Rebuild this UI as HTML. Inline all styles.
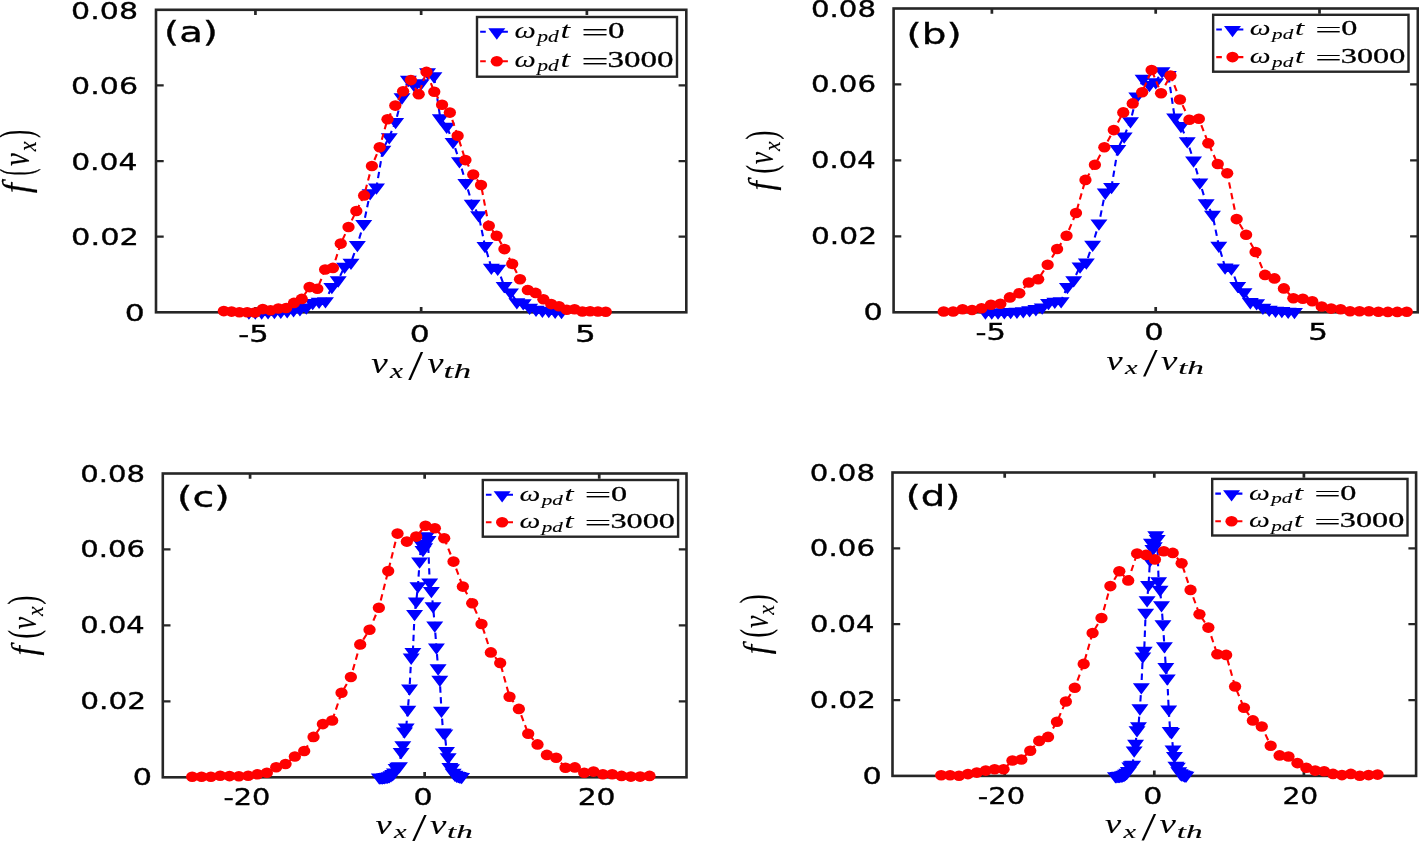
<!DOCTYPE html>
<html lang="en"><head><meta charset="utf-8"><title>f(v_x) distributions</title>
<style>html,body{margin:0;padding:0;background:#fff}body{width:1419px;height:841px;overflow:hidden}svg{display:block}</style>
</head><body>
<svg width="1419" height="841" viewBox="0 0 1419 841">
<rect width="1419" height="841" fill="#fff"/>
<g id="panel-a">
<rect x="156" y="9.8" width="530.3" height="302.5" fill="none" stroke="#262626" stroke-width="2.6"/>
<path d="M255.43 312.3v-5.3 M255.43 9.8v5.3 M421.15 312.3v-5.3 M421.15 9.8v5.3 M586.87 312.3v-5.3 M586.87 9.8v5.3" stroke="#262626" stroke-width="2.7" fill="none"/>
<path d="M156 236.68h7.7 M686.3 236.68h-7.7 M156 161.05h7.7 M686.3 161.05h-7.7 M156 85.43h7.7 M686.3 85.43h-7.7" stroke="#262626" stroke-width="2.2" fill="none"/>
<text transform="translate(124.84 321) scale(1.3256 1)" font-family="'DejaVu Sans','Liberation Sans',sans-serif" font-size="23.7" stroke="#000" stroke-width="0.35">0</text>
<text transform="translate(71.09 245.38) scale(1.2873 1)" font-family="'DejaVu Sans','Liberation Sans',sans-serif" font-size="23.7" stroke="#000" stroke-width="0.35">0.02</text>
<text transform="translate(71.14 169.75) scale(1.2589 1)" font-family="'DejaVu Sans','Liberation Sans',sans-serif" font-size="23.7" stroke="#000" stroke-width="0.35">0.04</text>
<text transform="translate(71.12 94.13) scale(1.2682 1)" font-family="'DejaVu Sans','Liberation Sans',sans-serif" font-size="23.7" stroke="#000" stroke-width="0.35">0.06</text>
<text transform="translate(71.12 18.5) scale(1.2682 1)" font-family="'DejaVu Sans','Liberation Sans',sans-serif" font-size="23.7" stroke="#000" stroke-width="0.35">0.08</text>
<text transform="translate(238.3 342) scale(1.2902 1)" font-family="'DejaVu Sans','Liberation Sans',sans-serif" font-size="23.7" stroke="#000" stroke-width="0.35">-5</text>
<text transform="translate(409.74 342) scale(1.3256 1)" font-family="'DejaVu Sans','Liberation Sans',sans-serif" font-size="23.7" stroke="#000" stroke-width="0.35">0</text>
<text transform="translate(575.12 342) scale(1.3839 1)" font-family="'DejaVu Sans','Liberation Sans',sans-serif" font-size="23.7" stroke="#000" stroke-width="0.35">5</text>
<text transform="translate(164.08 42.1) scale(1.3797 1)" font-family="'DejaVu Sans','Liberation Sans',sans-serif" font-size="28" stroke="#000" stroke-width="0.35">(a)</text>
<text transform="translate(371.2 373.3) scale(1.2375 1)" font-family="'Liberation Serif','DejaVu Serif',serif" font-size="29.96" font-style="italic" stroke="#000" stroke-width="0.12">v</text>
<text transform="translate(389.96 377.69) scale(1.4213 1)" font-family="'Liberation Serif','DejaVu Serif',serif" font-size="20.65" font-style="italic" stroke="#000" stroke-width="0.12">x</text>
<text transform="translate(407.44 376.76) scale(1.4463 1)" font-family="'DejaVu Sans','Liberation Sans',sans-serif" font-weight="200" font-size="33.85">/</text>
<text transform="translate(427.4 373.3) scale(1.2007 1)" font-family="'Liberation Serif','DejaVu Serif',serif" font-size="29.96" font-style="italic" stroke="#000" stroke-width="0.12">v</text>
<text transform="translate(443.6 377.69) scale(1.7059 1)" font-family="'Liberation Serif','DejaVu Serif',serif" font-size="20.65" font-style="italic" stroke="#000" stroke-width="0.12">th</text>
<text transform="translate(29.1 193.2) rotate(-90) scale(1.2160 1.2500)" font-family="'Liberation Serif','DejaVu Serif',serif" font-size="29.96" font-style="italic" stroke="#000" stroke-width="0.12">f</text>
<text transform="translate(30.92 175.46) rotate(-90) scale(0.5739 1.2500)" font-family="'Liberation Serif','DejaVu Serif',serif" font-size="36.55" stroke="#000" stroke-width="0.12">(</text>
<text transform="translate(29.1 165.9) rotate(-90) scale(0.9650 1.2500)" font-family="'Liberation Serif','DejaVu Serif',serif" font-size="29.96" font-style="italic" stroke="#000" stroke-width="0.12">v</text>
<text transform="translate(36.38 151.25) rotate(-90) scale(1.0793 1.2500)" font-family="'Liberation Serif','DejaVu Serif',serif" font-size="20.65" font-style="italic" stroke="#000" stroke-width="0.12">x</text>
<text transform="translate(30.92 138.06) rotate(-90) scale(0.6695 1.2500)" font-family="'Liberation Serif','DejaVu Serif',serif" font-size="36.55" stroke="#000" stroke-width="0.12">)</text>
<path d="M248.9 312.3L255.28 312.3L261.66 312.2L268.04 312L274.42 311.8L280.8 311.5L287.18 311L293.56 310L299.94 308.9L306.32 307.2L312.7 302.7L319.08 301.5L325.46 301L331.84 286.8L338.22 280.1L344.6 266.5L350.98 262.5L357.36 244.7L363.74 223.7L370.12 192.9L376.5 187.2L382.88 149.4L389.26 136.9L395.64 121.8L402.02 97.1L408.4 79.6L414.78 85.8L421.16 83L427.54 72.1L433.92 75.9L440.3 118.1L446.68 126.5L453.06 141.8L459.44 160.9L465.82 182.7L472.2 203.6L478.58 214.9L484.96 245.8L491.34 267.4L497.72 268.4L504.1 285.8L510.48 292.2L516.86 301.9L523.24 303L529.62 307.5L536 309.5L542.38 310.5L548.76 310.8L555.14 311.5L561.52 311.8" stroke="#0000ff" stroke-width="2.1" stroke-dasharray="6.4 4.4" fill="none" stroke-linejoin="round"/>
<path d="M240.4 308.53L257.4 308.53L248.9 319.83ZM246.78 308.53L263.78 308.53L255.28 319.83ZM253.16 308.43L270.16 308.43L261.66 319.73ZM259.54 308.23L276.54 308.23L268.04 319.53ZM265.92 308.03L282.92 308.03L274.42 319.33ZM272.3 307.73L289.3 307.73L280.8 319.03ZM278.68 307.23L295.68 307.23L287.18 318.53ZM285.06 306.23L302.06 306.23L293.56 317.53ZM291.44 305.13L308.44 305.13L299.94 316.43ZM297.82 303.43L314.82 303.43L306.32 314.73ZM304.2 298.93L321.2 298.93L312.7 310.23ZM310.58 297.73L327.58 297.73L319.08 309.03ZM316.96 297.23L333.96 297.23L325.46 308.53ZM323.34 283.03L340.34 283.03L331.84 294.33ZM329.72 276.33L346.72 276.33L338.22 287.63ZM336.1 262.73L353.1 262.73L344.6 274.03ZM342.48 258.73L359.48 258.73L350.98 270.03ZM348.86 240.93L365.86 240.93L357.36 252.23ZM355.24 219.93L372.24 219.93L363.74 231.23ZM361.62 189.13L378.62 189.13L370.12 200.43ZM368 183.43L385 183.43L376.5 194.73ZM374.38 145.63L391.38 145.63L382.88 156.93ZM380.76 133.13L397.76 133.13L389.26 144.43ZM387.14 118.03L404.14 118.03L395.64 129.33ZM393.52 93.33L410.52 93.33L402.02 104.63ZM399.9 75.83L416.9 75.83L408.4 87.13ZM406.28 82.03L423.28 82.03L414.78 93.33ZM412.66 79.23L429.66 79.23L421.16 90.53ZM419.04 68.33L436.04 68.33L427.54 79.63ZM425.42 72.13L442.42 72.13L433.92 83.43ZM431.8 114.33L448.8 114.33L440.3 125.63ZM438.18 122.73L455.18 122.73L446.68 134.03ZM444.56 138.03L461.56 138.03L453.06 149.33ZM450.94 157.13L467.94 157.13L459.44 168.43ZM457.32 178.93L474.32 178.93L465.82 190.23ZM463.7 199.83L480.7 199.83L472.2 211.13ZM470.08 211.13L487.08 211.13L478.58 222.43ZM476.46 242.03L493.46 242.03L484.96 253.33ZM482.84 263.63L499.84 263.63L491.34 274.93ZM489.22 264.63L506.22 264.63L497.72 275.93ZM495.6 282.03L512.6 282.03L504.1 293.33ZM501.98 288.43L518.98 288.43L510.48 299.73ZM508.36 298.13L525.36 298.13L516.86 309.43ZM514.74 299.23L531.74 299.23L523.24 310.53ZM521.12 303.73L538.12 303.73L529.62 315.03ZM527.5 305.73L544.5 305.73L536 317.03ZM533.88 306.73L550.88 306.73L542.38 318.03ZM540.26 307.03L557.26 307.03L548.76 318.33ZM546.64 307.73L563.64 307.73L555.14 319.03ZM553.02 308.03L570.02 308.03L561.52 319.33Z" fill="#0000ff"/>
<path d="M223.8 311.1L231.59 311.6L239.39 312.3L247.19 312.3L254.98 312.5L262.78 309.1L270.57 310.2L278.37 308.5L286.16 308L293.96 302.9L301.75 298.9L309.55 287.1L317.34 288.8L325.13 269.5L332.93 267.9L340.73 243.6L348.52 227L356.31 211L364.11 195.4L371.9 166L379.7 147.3L387.5 119.2L395.29 105.6L403.09 91.2L410.88 80.1L418.68 94.3L426.47 71.9L434.26 91.7L442.06 104.7L449.86 112.6L457.65 135.8L465.45 160.1L473.24 174.5L481.04 185L488.83 225.8L496.62 235.7L504.42 249.1L512.22 263.9L520.01 279.3L527.81 290L535.6 292.9L543.39 299.3L551.19 304.1L558.99 306.3L566.78 309.7L574.58 309.3L582.37 311.5L590.16 311.2L597.96 311.5L605.75 311.8" stroke="#ff0000" stroke-width="2.1" stroke-dasharray="6.4 4.4" fill="none" stroke-linejoin="round"/>
<g fill="#ff0000"><ellipse cx="223.8" cy="311.1" rx="6.15" ry="5.3"/><ellipse cx="231.59" cy="311.6" rx="6.15" ry="5.3"/><ellipse cx="239.39" cy="312.3" rx="6.15" ry="5.3"/><ellipse cx="247.19" cy="312.3" rx="6.15" ry="5.3"/><ellipse cx="254.98" cy="312.5" rx="6.15" ry="5.3"/><ellipse cx="262.78" cy="309.1" rx="6.15" ry="5.3"/><ellipse cx="270.57" cy="310.2" rx="6.15" ry="5.3"/><ellipse cx="278.37" cy="308.5" rx="6.15" ry="5.3"/><ellipse cx="286.16" cy="308" rx="6.15" ry="5.3"/><ellipse cx="293.96" cy="302.9" rx="6.15" ry="5.3"/><ellipse cx="301.75" cy="298.9" rx="6.15" ry="5.3"/><ellipse cx="309.55" cy="287.1" rx="6.15" ry="5.3"/><ellipse cx="317.34" cy="288.8" rx="6.15" ry="5.3"/><ellipse cx="325.13" cy="269.5" rx="6.15" ry="5.3"/><ellipse cx="332.93" cy="267.9" rx="6.15" ry="5.3"/><ellipse cx="340.73" cy="243.6" rx="6.15" ry="5.3"/><ellipse cx="348.52" cy="227" rx="6.15" ry="5.3"/><ellipse cx="356.31" cy="211" rx="6.15" ry="5.3"/><ellipse cx="364.11" cy="195.4" rx="6.15" ry="5.3"/><ellipse cx="371.9" cy="166" rx="6.15" ry="5.3"/><ellipse cx="379.7" cy="147.3" rx="6.15" ry="5.3"/><ellipse cx="387.5" cy="119.2" rx="6.15" ry="5.3"/><ellipse cx="395.29" cy="105.6" rx="6.15" ry="5.3"/><ellipse cx="403.09" cy="91.2" rx="6.15" ry="5.3"/><ellipse cx="410.88" cy="80.1" rx="6.15" ry="5.3"/><ellipse cx="418.68" cy="94.3" rx="6.15" ry="5.3"/><ellipse cx="426.47" cy="71.9" rx="6.15" ry="5.3"/><ellipse cx="434.26" cy="91.7" rx="6.15" ry="5.3"/><ellipse cx="442.06" cy="104.7" rx="6.15" ry="5.3"/><ellipse cx="449.86" cy="112.6" rx="6.15" ry="5.3"/><ellipse cx="457.65" cy="135.8" rx="6.15" ry="5.3"/><ellipse cx="465.45" cy="160.1" rx="6.15" ry="5.3"/><ellipse cx="473.24" cy="174.5" rx="6.15" ry="5.3"/><ellipse cx="481.04" cy="185" rx="6.15" ry="5.3"/><ellipse cx="488.83" cy="225.8" rx="6.15" ry="5.3"/><ellipse cx="496.62" cy="235.7" rx="6.15" ry="5.3"/><ellipse cx="504.42" cy="249.1" rx="6.15" ry="5.3"/><ellipse cx="512.22" cy="263.9" rx="6.15" ry="5.3"/><ellipse cx="520.01" cy="279.3" rx="6.15" ry="5.3"/><ellipse cx="527.81" cy="290" rx="6.15" ry="5.3"/><ellipse cx="535.6" cy="292.9" rx="6.15" ry="5.3"/><ellipse cx="543.39" cy="299.3" rx="6.15" ry="5.3"/><ellipse cx="551.19" cy="304.1" rx="6.15" ry="5.3"/><ellipse cx="558.99" cy="306.3" rx="6.15" ry="5.3"/><ellipse cx="566.78" cy="309.7" rx="6.15" ry="5.3"/><ellipse cx="574.58" cy="309.3" rx="6.15" ry="5.3"/><ellipse cx="582.37" cy="311.5" rx="6.15" ry="5.3"/><ellipse cx="590.16" cy="311.2" rx="6.15" ry="5.3"/><ellipse cx="597.96" cy="311.5" rx="6.15" ry="5.3"/><ellipse cx="605.75" cy="311.8" rx="6.15" ry="5.3"/></g>
<rect x="477" y="17" width="200" height="59.7" fill="#fff" stroke="#262626" stroke-width="2.4"/>
<path d="M480.17 31.8H507.89" stroke="#0000ff" stroke-width="2.1" stroke-dasharray="5.6 6 30 0" fill="none"/>
<path d="M488.3 28.33L505.3 28.33L496.8 39.63Z" fill="#0000ff"/>
<path d="M480.17 61.3H507.89" stroke="#ff0000" stroke-width="2.1" stroke-dasharray="5.6 6 30 0" fill="none"/>
<ellipse cx="496.8" cy="61.3" rx="6.15" ry="5.3" fill="#ff0000"/>
<text transform="translate(514.52 37.8) scale(1.2905 1)" font-family="'Liberation Serif','DejaVu Serif',serif" font-size="23.33" font-style="italic" stroke="#000" stroke-width="0.12">&#969;</text>
<text transform="translate(537.32 41.97) scale(1.3072 1)" font-family="'Liberation Serif','DejaVu Serif',serif" font-size="16.48" font-style="italic" stroke="#000" stroke-width="0.12">pd</text>
<text transform="translate(560.41 37.8) scale(1.4970 1)" font-family="'Liberation Serif','DejaVu Serif',serif" font-size="23.33" font-style="italic">t</text>
<text transform="translate(581.15 39.73) scale(2.0958 1)" font-family="'Liberation Serif','DejaVu Serif',serif" font-size="23.33" stroke="#000" stroke-width="0.12">=</text>
<text transform="translate(608.09 37.8) scale(1.4134 1)" font-family="'Liberation Serif','DejaVu Serif',serif" font-size="23.33" stroke="#000" stroke-width="0.3">0</text>
<text transform="translate(514.52 67.3) scale(1.2905 1)" font-family="'Liberation Serif','DejaVu Serif',serif" font-size="23.33" font-style="italic" stroke="#000" stroke-width="0.12">&#969;</text>
<text transform="translate(537.32 71.47) scale(1.3072 1)" font-family="'Liberation Serif','DejaVu Serif',serif" font-size="16.48" font-style="italic" stroke="#000" stroke-width="0.12">pd</text>
<text transform="translate(560.41 67.3) scale(1.4970 1)" font-family="'Liberation Serif','DejaVu Serif',serif" font-size="23.33" font-style="italic">t</text>
<text transform="translate(581.15 69.23) scale(2.0958 1)" font-family="'Liberation Serif','DejaVu Serif',serif" font-size="23.33" stroke="#000" stroke-width="0.12">=</text>
<text transform="translate(607.57 67.3) scale(1.4148 1)" font-family="'Liberation Serif','DejaVu Serif',serif" font-size="23.33" stroke="#000" stroke-width="0.3">3000</text>
</g>
<g id="panel-b">
<rect x="893.6" y="8.5" width="524.2" height="303.8" fill="none" stroke="#262626" stroke-width="2.6"/>
<path d="M991.89 312.3v-5.3 M991.89 8.5v5.3 M1155.7 312.3v-5.3 M1155.7 8.5v5.3 M1319.51 312.3v-5.3 M1319.51 8.5v5.3" stroke="#262626" stroke-width="2.7" fill="none"/>
<path d="M893.6 236.35h7.7 M1417.8 236.35h-7.7 M893.6 160.4h7.7 M1417.8 160.4h-7.7 M893.6 84.45h7.7 M1417.8 84.45h-7.7" stroke="#262626" stroke-width="2.2" fill="none"/>
<text transform="translate(863.51 320.3) scale(1.3659 1)" font-family="'DejaVu Sans','Liberation Sans',sans-serif" font-size="22.15" stroke="#000" stroke-width="0.35">0</text>
<text transform="translate(810.94 244.35) scale(1.3404 1)" font-family="'DejaVu Sans','Liberation Sans',sans-serif" font-size="22.15" stroke="#000" stroke-width="0.35">0.02</text>
<text transform="translate(810.99 168.4) scale(1.3108 1)" font-family="'DejaVu Sans','Liberation Sans',sans-serif" font-size="22.15" stroke="#000" stroke-width="0.35">0.04</text>
<text transform="translate(810.97 92.45) scale(1.3206 1)" font-family="'DejaVu Sans','Liberation Sans',sans-serif" font-size="22.15" stroke="#000" stroke-width="0.35">0.06</text>
<text transform="translate(810.97 16.5) scale(1.3206 1)" font-family="'DejaVu Sans','Liberation Sans',sans-serif" font-size="22.15" stroke="#000" stroke-width="0.35">0.08</text>
<text transform="translate(975.45 340.2) scale(1.3805 1)" font-family="'DejaVu Sans','Liberation Sans',sans-serif" font-size="22.15" stroke="#000" stroke-width="0.35">-5</text>
<text transform="translate(1144.29 340.2) scale(1.3790 1)" font-family="'DejaVu Sans','Liberation Sans',sans-serif" font-size="22.15" stroke="#000" stroke-width="0.35">0</text>
<text transform="translate(1308.17 340.2) scale(1.3995 1)" font-family="'DejaVu Sans','Liberation Sans',sans-serif" font-size="22.15" stroke="#000" stroke-width="0.35">5</text>
<text transform="translate(906.56 43.55) scale(1.3897 1)" font-family="'DejaVu Sans','Liberation Sans',sans-serif" font-size="28" stroke="#000" stroke-width="0.35">(b)</text>
<text transform="translate(1106.5 369.8) scale(1.3005 1)" font-family="'Liberation Serif','DejaVu Serif',serif" font-size="28" font-style="italic" stroke="#000" stroke-width="0.12">v</text>
<text transform="translate(1124.94 373.9) scale(1.4636 1)" font-family="'Liberation Serif','DejaVu Serif',serif" font-size="19.3" font-style="italic" stroke="#000" stroke-width="0.12">x</text>
<text transform="translate(1142.25 373.03) scale(1.5172 1)" font-family="'DejaVu Sans','Liberation Sans',sans-serif" font-weight="200" font-size="31.64">/</text>
<text transform="translate(1161 369.8) scale(1.3163 1)" font-family="'Liberation Serif','DejaVu Serif',serif" font-size="28" font-style="italic" stroke="#000" stroke-width="0.12">v</text>
<text transform="translate(1178.16 373.9) scale(1.7167 1)" font-family="'Liberation Serif','DejaVu Serif',serif" font-size="19.3" font-style="italic" stroke="#000" stroke-width="0.12">th</text>
<text transform="translate(773.4 190.5) rotate(-90) scale(1.1956 1.2500)" font-family="'Liberation Serif','DejaVu Serif',serif" font-size="28" font-style="italic" stroke="#000" stroke-width="0.12">f</text>
<text transform="translate(775.1 173.6) rotate(-90) scale(0.7494 1.2500)" font-family="'Liberation Serif','DejaVu Serif',serif" font-size="34.16" stroke="#000" stroke-width="0.12">(</text>
<text transform="translate(773.4 164.2) rotate(-90) scale(0.9931 1.2500)" font-family="'Liberation Serif','DejaVu Serif',serif" font-size="28" font-style="italic" stroke="#000" stroke-width="0.12">v</text>
<text transform="translate(780.2 151.06) rotate(-90) scale(1.1206 1.2500)" font-family="'Liberation Serif','DejaVu Serif',serif" font-size="19.3" font-style="italic" stroke="#000" stroke-width="0.12">x</text>
<text transform="translate(775.1 139.54) rotate(-90) scale(0.7825 1.2500)" font-family="'Liberation Serif','DejaVu Serif',serif" font-size="34.16" stroke="#000" stroke-width="0.12">)</text>
<path d="M985.43 312.3L991.74 312.3L998.04 312.2L1004.35 312L1010.66 311.8L1016.96 311.5L1023.27 310.99L1029.58 309.99L1035.88 308.89L1042.19 307.18L1048.5 302.66L1054.8 301.45L1061.11 300.95L1067.42 286.69L1073.72 279.96L1080.03 266.3L1086.34 262.29L1092.64 244.41L1098.95 223.32L1105.26 192.39L1111.56 186.66L1117.87 148.7L1124.18 136.15L1130.48 120.98L1136.79 96.18L1143.1 78.6L1149.4 84.83L1155.71 82.01L1162.02 71.07L1168.32 74.88L1174.63 117.27L1180.94 125.7L1187.24 141.07L1193.55 160.25L1199.86 182.14L1206.16 203.13L1212.47 214.48L1218.78 245.51L1225.08 267.21L1231.39 268.21L1237.7 285.69L1244 292.11L1250.31 301.86L1256.62 302.96L1262.92 307.48L1269.23 309.49L1275.54 310.49L1281.84 310.79L1288.15 311.5L1294.46 311.8" stroke="#0000ff" stroke-width="2.1" stroke-dasharray="6.4 4.4" fill="none" stroke-linejoin="round"/>
<path d="M976.93 308.53L993.93 308.53L985.43 319.83ZM983.24 308.53L1000.24 308.53L991.74 319.83ZM989.54 308.43L1006.54 308.43L998.04 319.73ZM995.85 308.23L1012.85 308.23L1004.35 319.53ZM1002.16 308.03L1019.16 308.03L1010.66 319.33ZM1008.46 307.73L1025.46 307.73L1016.96 319.03ZM1014.77 307.23L1031.77 307.23L1023.27 318.53ZM1021.08 306.22L1038.08 306.22L1029.58 317.52ZM1027.38 305.12L1044.38 305.12L1035.88 316.42ZM1033.69 303.41L1050.69 303.41L1042.19 314.71ZM1040 298.89L1057 298.89L1048.5 310.19ZM1046.3 297.69L1063.3 297.69L1054.8 308.99ZM1052.61 297.18L1069.61 297.18L1061.11 308.48ZM1058.92 282.92L1075.92 282.92L1067.42 294.22ZM1065.22 276.19L1082.22 276.19L1073.72 287.49ZM1071.53 262.54L1088.53 262.54L1080.03 273.84ZM1077.84 258.52L1094.84 258.52L1086.34 269.82ZM1084.14 240.64L1101.14 240.64L1092.64 251.94ZM1090.45 219.55L1107.45 219.55L1098.95 230.85ZM1096.76 188.62L1113.76 188.62L1105.26 199.92ZM1103.06 182.9L1120.06 182.9L1111.56 194.2ZM1109.37 144.93L1126.37 144.93L1117.87 156.23ZM1115.68 132.38L1132.68 132.38L1124.18 143.68ZM1121.98 117.21L1138.98 117.21L1130.48 128.51ZM1128.29 92.41L1145.29 92.41L1136.79 103.71ZM1134.6 74.83L1151.6 74.83L1143.1 86.13ZM1140.9 81.06L1157.9 81.06L1149.4 92.36ZM1147.21 78.25L1164.21 78.25L1155.71 89.55ZM1153.52 67.3L1170.52 67.3L1162.02 78.6ZM1159.82 71.12L1176.82 71.12L1168.32 82.42ZM1166.13 113.5L1183.13 113.5L1174.63 124.8ZM1172.44 121.93L1189.44 121.93L1180.94 133.23ZM1178.74 137.3L1195.74 137.3L1187.24 148.6ZM1185.05 156.48L1202.05 156.48L1193.55 167.78ZM1191.36 178.38L1208.36 178.38L1199.86 189.68ZM1197.66 199.37L1214.66 199.37L1206.16 210.67ZM1203.97 210.71L1220.97 210.71L1212.47 222.01ZM1210.28 241.75L1227.28 241.75L1218.78 253.05ZM1216.58 263.44L1233.58 263.44L1225.08 274.74ZM1222.89 264.44L1239.89 264.44L1231.39 275.74ZM1229.2 281.92L1246.2 281.92L1237.7 293.22ZM1235.5 288.35L1252.5 288.35L1244 299.65ZM1241.81 298.09L1258.81 298.09L1250.31 309.39ZM1248.12 299.19L1265.12 299.19L1256.62 310.49ZM1254.42 303.71L1271.42 303.71L1262.92 315.01ZM1260.73 305.72L1277.73 305.72L1269.23 317.02ZM1267.04 306.73L1284.04 306.73L1275.54 318.03ZM1273.34 307.03L1290.34 307.03L1281.84 318.33ZM1279.65 307.73L1296.65 307.73L1288.15 319.03ZM1285.96 308.03L1302.96 308.03L1294.46 319.33Z" fill="#0000ff"/>
<path d="M943.7 311.5L953.15 311.5L962.6 309.2L972.05 310L981.5 308.2L990.95 304.8L1000.4 303.7L1009.85 297.4L1019.3 293.3L1028.75 282.5L1038.2 279.2L1047.65 264.7L1057.1 249L1066.55 235.7L1076 213L1085.45 179.9L1094.9 164.8L1104.35 147.2L1113.8 130.1L1123.25 112.4L1132.7 103.4L1142.15 92.2L1151.6 70L1161.05 93.2L1170.5 75.5L1179.95 99.5L1189.4 119.7L1198.85 118.7L1208.3 143.2L1217.75 164L1227.2 173.3L1236.65 219.1L1246.1 234.7L1255.55 252L1265 274.9L1274.45 278.4L1283.9 288.4L1293.35 298.2L1302.8 298.8L1312.25 301.3L1321.7 306.5L1331.15 308.6L1340.6 309.2L1350.05 311.3L1359.5 311.3L1368.95 311.3L1378.4 311.7L1387.85 311.9L1397.3 311.9L1406.75 311.7" stroke="#ff0000" stroke-width="2.1" stroke-dasharray="6.4 4.4" fill="none" stroke-linejoin="round"/>
<g fill="#ff0000"><ellipse cx="943.7" cy="311.5" rx="6.15" ry="5.3"/><ellipse cx="953.15" cy="311.5" rx="6.15" ry="5.3"/><ellipse cx="962.6" cy="309.2" rx="6.15" ry="5.3"/><ellipse cx="972.05" cy="310" rx="6.15" ry="5.3"/><ellipse cx="981.5" cy="308.2" rx="6.15" ry="5.3"/><ellipse cx="990.95" cy="304.8" rx="6.15" ry="5.3"/><ellipse cx="1000.4" cy="303.7" rx="6.15" ry="5.3"/><ellipse cx="1009.85" cy="297.4" rx="6.15" ry="5.3"/><ellipse cx="1019.3" cy="293.3" rx="6.15" ry="5.3"/><ellipse cx="1028.75" cy="282.5" rx="6.15" ry="5.3"/><ellipse cx="1038.2" cy="279.2" rx="6.15" ry="5.3"/><ellipse cx="1047.65" cy="264.7" rx="6.15" ry="5.3"/><ellipse cx="1057.1" cy="249" rx="6.15" ry="5.3"/><ellipse cx="1066.55" cy="235.7" rx="6.15" ry="5.3"/><ellipse cx="1076" cy="213" rx="6.15" ry="5.3"/><ellipse cx="1085.45" cy="179.9" rx="6.15" ry="5.3"/><ellipse cx="1094.9" cy="164.8" rx="6.15" ry="5.3"/><ellipse cx="1104.35" cy="147.2" rx="6.15" ry="5.3"/><ellipse cx="1113.8" cy="130.1" rx="6.15" ry="5.3"/><ellipse cx="1123.25" cy="112.4" rx="6.15" ry="5.3"/><ellipse cx="1132.7" cy="103.4" rx="6.15" ry="5.3"/><ellipse cx="1142.15" cy="92.2" rx="6.15" ry="5.3"/><ellipse cx="1151.6" cy="70" rx="6.15" ry="5.3"/><ellipse cx="1161.05" cy="93.2" rx="6.15" ry="5.3"/><ellipse cx="1170.5" cy="75.5" rx="6.15" ry="5.3"/><ellipse cx="1179.95" cy="99.5" rx="6.15" ry="5.3"/><ellipse cx="1189.4" cy="119.7" rx="6.15" ry="5.3"/><ellipse cx="1198.85" cy="118.7" rx="6.15" ry="5.3"/><ellipse cx="1208.3" cy="143.2" rx="6.15" ry="5.3"/><ellipse cx="1217.75" cy="164" rx="6.15" ry="5.3"/><ellipse cx="1227.2" cy="173.3" rx="6.15" ry="5.3"/><ellipse cx="1236.65" cy="219.1" rx="6.15" ry="5.3"/><ellipse cx="1246.1" cy="234.7" rx="6.15" ry="5.3"/><ellipse cx="1255.55" cy="252" rx="6.15" ry="5.3"/><ellipse cx="1265" cy="274.9" rx="6.15" ry="5.3"/><ellipse cx="1274.45" cy="278.4" rx="6.15" ry="5.3"/><ellipse cx="1283.9" cy="288.4" rx="6.15" ry="5.3"/><ellipse cx="1293.35" cy="298.2" rx="6.15" ry="5.3"/><ellipse cx="1302.8" cy="298.8" rx="6.15" ry="5.3"/><ellipse cx="1312.25" cy="301.3" rx="6.15" ry="5.3"/><ellipse cx="1321.7" cy="306.5" rx="6.15" ry="5.3"/><ellipse cx="1331.15" cy="308.6" rx="6.15" ry="5.3"/><ellipse cx="1340.6" cy="309.2" rx="6.15" ry="5.3"/><ellipse cx="1350.05" cy="311.3" rx="6.15" ry="5.3"/><ellipse cx="1359.5" cy="311.3" rx="6.15" ry="5.3"/><ellipse cx="1368.95" cy="311.3" rx="6.15" ry="5.3"/><ellipse cx="1378.4" cy="311.7" rx="6.15" ry="5.3"/><ellipse cx="1387.85" cy="311.9" rx="6.15" ry="5.3"/><ellipse cx="1397.3" cy="311.9" rx="6.15" ry="5.3"/><ellipse cx="1406.75" cy="311.7" rx="6.15" ry="5.3"/></g>
<rect x="1213.15" y="14.8" width="195.35" height="56.9" fill="#fff" stroke="#262626" stroke-width="2.4"/>
<path d="M1216.25 29.5H1243.35" stroke="#0000ff" stroke-width="2.1" stroke-dasharray="5.6 6 30 0" fill="none"/>
<path d="M1224 26.03L1241 26.03L1232.5 37.33Z" fill="#0000ff"/>
<path d="M1216.25 57.1H1243.35" stroke="#ff0000" stroke-width="2.1" stroke-dasharray="5.6 6 30 0" fill="none"/>
<ellipse cx="1232.5" cy="57.1" rx="6.15" ry="5.3" fill="#ff0000"/>
<text transform="translate(1249.83 35.4) scale(1.3497 1)" font-family="'Liberation Serif','DejaVu Serif',serif" font-size="21.8" font-style="italic" stroke="#000" stroke-width="0.12">&#969;</text>
<text transform="translate(1272.12 39.3) scale(1.3672 1)" font-family="'Liberation Serif','DejaVu Serif',serif" font-size="15.4" font-style="italic" stroke="#000" stroke-width="0.12">pd</text>
<text transform="translate(1294.68 35.4) scale(1.5657 1)" font-family="'Liberation Serif','DejaVu Serif',serif" font-size="21.8" font-style="italic">t</text>
<text transform="translate(1314.96 37.2) scale(2.1920 1)" font-family="'Liberation Serif','DejaVu Serif',serif" font-size="21.8" stroke="#000" stroke-width="0.12">=</text>
<text transform="translate(1341.29 35.4) scale(1.4784 1)" font-family="'Liberation Serif','DejaVu Serif',serif" font-size="21.8" stroke="#000" stroke-width="0.3">0</text>
<text transform="translate(1249.83 62.9) scale(1.3497 1)" font-family="'Liberation Serif','DejaVu Serif',serif" font-size="21.8" font-style="italic" stroke="#000" stroke-width="0.12">&#969;</text>
<text transform="translate(1272.12 66.8) scale(1.3672 1)" font-family="'Liberation Serif','DejaVu Serif',serif" font-size="15.4" font-style="italic" stroke="#000" stroke-width="0.12">pd</text>
<text transform="translate(1294.68 62.9) scale(1.5657 1)" font-family="'Liberation Serif','DejaVu Serif',serif" font-size="21.8" font-style="italic">t</text>
<text transform="translate(1314.96 64.7) scale(2.1920 1)" font-family="'Liberation Serif','DejaVu Serif',serif" font-size="21.8" stroke="#000" stroke-width="0.12">=</text>
<text transform="translate(1340.79 62.9) scale(1.4798 1)" font-family="'Liberation Serif','DejaVu Serif',serif" font-size="21.8" stroke="#000" stroke-width="0.3">3000</text>
</g>
<g id="panel-c">
<rect x="162.8" y="473.5" width="523.7" height="303.8" fill="none" stroke="#262626" stroke-width="2.6"/>
<path d="M250.08 777.3v-5.3 M250.08 473.5v5.3 M424.65 777.3v-5.3 M424.65 473.5v5.3 M599.22 777.3v-5.3 M599.22 473.5v5.3" stroke="#262626" stroke-width="2.7" fill="none"/>
<path d="M162.8 701.35h7.7 M686.5 701.35h-7.7 M162.8 625.4h7.7 M686.5 625.4h-7.7 M162.8 549.45h7.7 M686.5 549.45h-7.7" stroke="#262626" stroke-width="2.2" fill="none"/>
<text transform="translate(132.71 785.3) scale(1.3659 1)" font-family="'DejaVu Sans','Liberation Sans',sans-serif" font-size="22.15" stroke="#000" stroke-width="0.35">0</text>
<text transform="translate(80.25 709.35) scale(1.3361 1)" font-family="'DejaVu Sans','Liberation Sans',sans-serif" font-size="22.15" stroke="#000" stroke-width="0.35">0.02</text>
<text transform="translate(80.29 633.4) scale(1.3066 1)" font-family="'DejaVu Sans','Liberation Sans',sans-serif" font-size="22.15" stroke="#000" stroke-width="0.35">0.04</text>
<text transform="translate(80.28 557.45) scale(1.3163 1)" font-family="'DejaVu Sans','Liberation Sans',sans-serif" font-size="22.15" stroke="#000" stroke-width="0.35">0.06</text>
<text transform="translate(80.28 481.5) scale(1.3163 1)" font-family="'DejaVu Sans','Liberation Sans',sans-serif" font-size="22.15" stroke="#000" stroke-width="0.35">0.08</text>
<text transform="translate(223.43 805) scale(1.2998 1)" font-family="'DejaVu Sans','Liberation Sans',sans-serif" font-size="22.15" stroke="#000" stroke-width="0.35">-20</text>
<text transform="translate(413.62 805) scale(1.3571 1)" font-family="'DejaVu Sans','Liberation Sans',sans-serif" font-size="22.15" stroke="#000" stroke-width="0.35">0</text>
<text transform="translate(577.65 805) scale(1.3463 1)" font-family="'DejaVu Sans','Liberation Sans',sans-serif" font-size="22.15" stroke="#000" stroke-width="0.35">20</text>
<text transform="translate(177.11 506.6) scale(1.4142 1)" font-family="'DejaVu Sans','Liberation Sans',sans-serif" font-size="28" stroke="#000" stroke-width="0.35">(c)</text>
<text transform="translate(375.45 834.3) scale(1.3005 1)" font-family="'Liberation Serif','DejaVu Serif',serif" font-size="28" font-style="italic" stroke="#000" stroke-width="0.12">v</text>
<text transform="translate(393.89 838.4) scale(1.4636 1)" font-family="'Liberation Serif','DejaVu Serif',serif" font-size="19.3" font-style="italic" stroke="#000" stroke-width="0.12">x</text>
<text transform="translate(411.2 837.53) scale(1.5172 1)" font-family="'DejaVu Sans','Liberation Sans',sans-serif" font-weight="200" font-size="31.64">/</text>
<text transform="translate(429.95 834.3) scale(1.3163 1)" font-family="'Liberation Serif','DejaVu Serif',serif" font-size="28" font-style="italic" stroke="#000" stroke-width="0.12">v</text>
<text transform="translate(447.11 838.4) scale(1.7167 1)" font-family="'Liberation Serif','DejaVu Serif',serif" font-size="19.3" font-style="italic" stroke="#000" stroke-width="0.12">th</text>
<text transform="translate(35.7 655.5) rotate(-90) scale(1.1956 1.2500)" font-family="'Liberation Serif','DejaVu Serif',serif" font-size="28" font-style="italic" stroke="#000" stroke-width="0.12">f</text>
<text transform="translate(37.4 638.6) rotate(-90) scale(0.7494 1.2500)" font-family="'Liberation Serif','DejaVu Serif',serif" font-size="34.16" stroke="#000" stroke-width="0.12">(</text>
<text transform="translate(35.7 629.2) rotate(-90) scale(0.9931 1.2500)" font-family="'Liberation Serif','DejaVu Serif',serif" font-size="28" font-style="italic" stroke="#000" stroke-width="0.12">v</text>
<text transform="translate(42.5 616.06) rotate(-90) scale(1.1206 1.2500)" font-family="'Liberation Serif','DejaVu Serif',serif" font-size="19.3" font-style="italic" stroke="#000" stroke-width="0.12">x</text>
<text transform="translate(37.4 604.54) rotate(-90) scale(0.7825 1.2500)" font-family="'Liberation Serif','DejaVu Serif',serif" font-size="34.16" stroke="#000" stroke-width="0.12">)</text>
<path d="M379.29 777.3L380.97 777.3L382.65 777.2L384.33 777L386.01 776.8L387.69 776.5L389.37 775.99L391.05 774.99L392.73 773.89L394.41 772.18L396.09 767.66L397.77 766.45L399.45 765.95L401.13 751.69L402.81 744.96L404.49 731.3L406.17 727.29L407.85 709.41L409.53 688.32L411.21 657.39L412.89 651.66L414.57 613.7L416.25 601.15L417.93 585.98L419.61 561.18L421.29 543.6L422.97 549.83L424.65 547.01L426.33 536.07L428.01 539.88L429.69 582.27L431.37 590.7L433.05 606.07L434.73 625.25L436.41 647.14L438.09 668.13L439.77 679.48L441.45 710.51L443.13 732.21L444.81 733.21L446.49 750.69L448.17 757.11L449.86 766.86L451.54 767.96L453.22 772.48L454.9 774.49L456.58 775.49L458.26 775.79L459.94 776.5L461.62 776.8" stroke="#0000ff" stroke-width="2.1" stroke-dasharray="6.4 4.4" fill="none" stroke-linejoin="round"/>
<path d="M370.79 773.53L387.79 773.53L379.29 784.83ZM372.47 773.53L389.47 773.53L380.97 784.83ZM374.15 773.43L391.15 773.43L382.65 784.73ZM375.83 773.23L392.83 773.23L384.33 784.53ZM377.51 773.03L394.51 773.03L386.01 784.33ZM379.19 772.73L396.19 772.73L387.69 784.03ZM380.87 772.23L397.87 772.23L389.37 783.53ZM382.55 771.22L399.55 771.22L391.05 782.52ZM384.23 770.12L401.23 770.12L392.73 781.42ZM385.91 768.41L402.91 768.41L394.41 779.71ZM387.59 763.89L404.59 763.89L396.09 775.19ZM389.27 762.69L406.27 762.69L397.77 773.99ZM390.95 762.18L407.95 762.18L399.45 773.48ZM392.63 747.92L409.63 747.92L401.13 759.22ZM394.31 741.19L411.31 741.19L402.81 752.49ZM395.99 727.54L412.99 727.54L404.49 738.84ZM397.67 723.52L414.67 723.52L406.17 734.82ZM399.35 705.64L416.35 705.64L407.85 716.94ZM401.03 684.55L418.03 684.55L409.53 695.85ZM402.71 653.62L419.71 653.62L411.21 664.92ZM404.39 647.9L421.39 647.9L412.89 659.2ZM406.07 609.93L423.07 609.93L414.57 621.23ZM407.75 597.38L424.75 597.38L416.25 608.68ZM409.43 582.21L426.43 582.21L417.93 593.51ZM411.11 557.41L428.11 557.41L419.61 568.71ZM412.79 539.83L429.79 539.83L421.29 551.13ZM414.47 546.06L431.47 546.06L422.97 557.36ZM416.15 543.25L433.15 543.25L424.65 554.55ZM417.83 532.3L434.83 532.3L426.33 543.6ZM419.51 536.12L436.51 536.12L428.01 547.42ZM421.19 578.5L438.19 578.5L429.69 589.8ZM422.87 586.93L439.87 586.93L431.37 598.23ZM424.55 602.3L441.55 602.3L433.05 613.6ZM426.23 621.48L443.23 621.48L434.73 632.78ZM427.91 643.38L444.91 643.38L436.41 654.68ZM429.59 664.37L446.59 664.37L438.09 675.67ZM431.27 675.71L448.27 675.71L439.77 687.01ZM432.95 706.75L449.95 706.75L441.45 718.05ZM434.63 728.44L451.63 728.44L443.13 739.74ZM436.31 729.44L453.31 729.44L444.81 740.74ZM437.99 746.92L454.99 746.92L446.49 758.22ZM439.67 753.35L456.67 753.35L448.17 764.65ZM441.36 763.09L458.36 763.09L449.86 774.39ZM443.04 764.19L460.04 764.19L451.54 775.49ZM444.72 768.71L461.72 768.71L453.22 780.01ZM446.4 770.72L463.4 770.72L454.9 782.02ZM448.08 771.73L465.08 771.73L456.58 783.03ZM449.76 772.03L466.76 772.03L458.26 783.33ZM451.44 772.73L468.44 772.73L459.94 784.03ZM453.12 773.03L470.12 773.03L461.62 784.33Z" fill="#0000ff"/>
<path d="M192.2 776.7L201.53 776.7L210.87 776.7L220.2 775.7L229.53 776.1L238.86 776.3L248.2 775.7L257.53 774.3L266.86 772.7L276.2 767.2L285.53 764L294.86 756.5L304.2 751L313.53 736.9L322.86 724.1L332.19 720.5L341.53 692.8L350.86 677L360.19 644.4L369.53 629.8L378.86 607.7L388.19 571.1L397.53 533.6L406.86 541.6L416.19 536.6L425.52 525.8L434.86 528.3L444.19 538.3L453.52 561.6L462.86 586.6L472.19 603.2L481.52 624L490.86 652.4L500.19 662.9L509.52 696.7L518.86 708.9L528.19 733.7L537.52 744.4L546.85 754.9L556.19 757.7L565.52 767.8L574.85 767.4L584.19 772.7L593.52 771.6L602.85 774.2L612.18 774.2L621.52 775.9L630.85 776.6L640.18 776.6L649.52 775.9" stroke="#ff0000" stroke-width="2.1" stroke-dasharray="6.4 4.4" fill="none" stroke-linejoin="round"/>
<g fill="#ff0000"><ellipse cx="192.2" cy="776.7" rx="6.15" ry="5.3"/><ellipse cx="201.53" cy="776.7" rx="6.15" ry="5.3"/><ellipse cx="210.87" cy="776.7" rx="6.15" ry="5.3"/><ellipse cx="220.2" cy="775.7" rx="6.15" ry="5.3"/><ellipse cx="229.53" cy="776.1" rx="6.15" ry="5.3"/><ellipse cx="238.86" cy="776.3" rx="6.15" ry="5.3"/><ellipse cx="248.2" cy="775.7" rx="6.15" ry="5.3"/><ellipse cx="257.53" cy="774.3" rx="6.15" ry="5.3"/><ellipse cx="266.86" cy="772.7" rx="6.15" ry="5.3"/><ellipse cx="276.2" cy="767.2" rx="6.15" ry="5.3"/><ellipse cx="285.53" cy="764" rx="6.15" ry="5.3"/><ellipse cx="294.86" cy="756.5" rx="6.15" ry="5.3"/><ellipse cx="304.2" cy="751" rx="6.15" ry="5.3"/><ellipse cx="313.53" cy="736.9" rx="6.15" ry="5.3"/><ellipse cx="322.86" cy="724.1" rx="6.15" ry="5.3"/><ellipse cx="332.19" cy="720.5" rx="6.15" ry="5.3"/><ellipse cx="341.53" cy="692.8" rx="6.15" ry="5.3"/><ellipse cx="350.86" cy="677" rx="6.15" ry="5.3"/><ellipse cx="360.19" cy="644.4" rx="6.15" ry="5.3"/><ellipse cx="369.53" cy="629.8" rx="6.15" ry="5.3"/><ellipse cx="378.86" cy="607.7" rx="6.15" ry="5.3"/><ellipse cx="388.19" cy="571.1" rx="6.15" ry="5.3"/><ellipse cx="397.53" cy="533.6" rx="6.15" ry="5.3"/><ellipse cx="406.86" cy="541.6" rx="6.15" ry="5.3"/><ellipse cx="416.19" cy="536.6" rx="6.15" ry="5.3"/><ellipse cx="425.52" cy="525.8" rx="6.15" ry="5.3"/><ellipse cx="434.86" cy="528.3" rx="6.15" ry="5.3"/><ellipse cx="444.19" cy="538.3" rx="6.15" ry="5.3"/><ellipse cx="453.52" cy="561.6" rx="6.15" ry="5.3"/><ellipse cx="462.86" cy="586.6" rx="6.15" ry="5.3"/><ellipse cx="472.19" cy="603.2" rx="6.15" ry="5.3"/><ellipse cx="481.52" cy="624" rx="6.15" ry="5.3"/><ellipse cx="490.86" cy="652.4" rx="6.15" ry="5.3"/><ellipse cx="500.19" cy="662.9" rx="6.15" ry="5.3"/><ellipse cx="509.52" cy="696.7" rx="6.15" ry="5.3"/><ellipse cx="518.86" cy="708.9" rx="6.15" ry="5.3"/><ellipse cx="528.19" cy="733.7" rx="6.15" ry="5.3"/><ellipse cx="537.52" cy="744.4" rx="6.15" ry="5.3"/><ellipse cx="546.85" cy="754.9" rx="6.15" ry="5.3"/><ellipse cx="556.19" cy="757.7" rx="6.15" ry="5.3"/><ellipse cx="565.52" cy="767.8" rx="6.15" ry="5.3"/><ellipse cx="574.85" cy="767.4" rx="6.15" ry="5.3"/><ellipse cx="584.19" cy="772.7" rx="6.15" ry="5.3"/><ellipse cx="593.52" cy="771.6" rx="6.15" ry="5.3"/><ellipse cx="602.85" cy="774.2" rx="6.15" ry="5.3"/><ellipse cx="612.18" cy="774.2" rx="6.15" ry="5.3"/><ellipse cx="621.52" cy="775.9" rx="6.15" ry="5.3"/><ellipse cx="630.85" cy="776.6" rx="6.15" ry="5.3"/><ellipse cx="640.18" cy="776.6" rx="6.15" ry="5.3"/><ellipse cx="649.52" cy="775.9" rx="6.15" ry="5.3"/></g>
<rect x="482.8" y="480" width="195.3" height="56.7" fill="#fff" stroke="#262626" stroke-width="2.4"/>
<path d="M485.9 494.7H513" stroke="#0000ff" stroke-width="2.1" stroke-dasharray="5.6 6 30 0" fill="none"/>
<path d="M493.65 491.23L510.65 491.23L502.15 502.53Z" fill="#0000ff"/>
<path d="M485.9 522.3H513" stroke="#ff0000" stroke-width="2.1" stroke-dasharray="5.6 6 30 0" fill="none"/>
<ellipse cx="502.15" cy="522.3" rx="6.15" ry="5.3" fill="#ff0000"/>
<text transform="translate(519.48 500.6) scale(1.3497 1)" font-family="'Liberation Serif','DejaVu Serif',serif" font-size="21.8" font-style="italic" stroke="#000" stroke-width="0.12">&#969;</text>
<text transform="translate(541.77 504.5) scale(1.3672 1)" font-family="'Liberation Serif','DejaVu Serif',serif" font-size="15.4" font-style="italic" stroke="#000" stroke-width="0.12">pd</text>
<text transform="translate(564.33 500.6) scale(1.5657 1)" font-family="'Liberation Serif','DejaVu Serif',serif" font-size="21.8" font-style="italic">t</text>
<text transform="translate(584.61 502.4) scale(2.1920 1)" font-family="'Liberation Serif','DejaVu Serif',serif" font-size="21.8" stroke="#000" stroke-width="0.12">=</text>
<text transform="translate(610.94 500.6) scale(1.4784 1)" font-family="'Liberation Serif','DejaVu Serif',serif" font-size="21.8" stroke="#000" stroke-width="0.3">0</text>
<text transform="translate(519.48 528.1) scale(1.3497 1)" font-family="'Liberation Serif','DejaVu Serif',serif" font-size="21.8" font-style="italic" stroke="#000" stroke-width="0.12">&#969;</text>
<text transform="translate(541.77 532) scale(1.3672 1)" font-family="'Liberation Serif','DejaVu Serif',serif" font-size="15.4" font-style="italic" stroke="#000" stroke-width="0.12">pd</text>
<text transform="translate(564.33 528.1) scale(1.5657 1)" font-family="'Liberation Serif','DejaVu Serif',serif" font-size="21.8" font-style="italic">t</text>
<text transform="translate(584.61 529.9) scale(2.1920 1)" font-family="'Liberation Serif','DejaVu Serif',serif" font-size="21.8" stroke="#000" stroke-width="0.12">=</text>
<text transform="translate(610.44 528.1) scale(1.4798 1)" font-family="'Liberation Serif','DejaVu Serif',serif" font-size="21.8" stroke="#000" stroke-width="0.3">3000</text>
</g>
<g id="panel-d">
<rect x="892.5" y="472.5" width="523.6" height="303.4" fill="none" stroke="#262626" stroke-width="2.6"/>
<path d="M1004.7 775.9v-5.3 M1004.7 472.5v5.3 M1154.3 775.9v-5.3 M1154.3 472.5v5.3 M1303.9 775.9v-5.3 M1303.9 472.5v5.3" stroke="#262626" stroke-width="2.7" fill="none"/>
<path d="M892.5 700.05h7.7 M1416.1 700.05h-7.7 M892.5 624.2h7.7 M1416.1 624.2h-7.7 M892.5 548.35h7.7 M1416.1 548.35h-7.7" stroke="#262626" stroke-width="2.2" fill="none"/>
<text transform="translate(862.41 783.9) scale(1.3659 1)" font-family="'DejaVu Sans','Liberation Sans',sans-serif" font-size="22.15" stroke="#000" stroke-width="0.35">0</text>
<text transform="translate(809.84 708.05) scale(1.3404 1)" font-family="'DejaVu Sans','Liberation Sans',sans-serif" font-size="22.15" stroke="#000" stroke-width="0.35">0.02</text>
<text transform="translate(809.89 632.2) scale(1.3108 1)" font-family="'DejaVu Sans','Liberation Sans',sans-serif" font-size="22.15" stroke="#000" stroke-width="0.35">0.04</text>
<text transform="translate(809.87 556.35) scale(1.3206 1)" font-family="'DejaVu Sans','Liberation Sans',sans-serif" font-size="22.15" stroke="#000" stroke-width="0.35">0.06</text>
<text transform="translate(809.87 480.5) scale(1.3206 1)" font-family="'DejaVu Sans','Liberation Sans',sans-serif" font-size="22.15" stroke="#000" stroke-width="0.35">0.08</text>
<text transform="translate(977.84 803.6) scale(1.3057 1)" font-family="'DejaVu Sans','Liberation Sans',sans-serif" font-size="22.15" stroke="#000" stroke-width="0.35">-20</text>
<text transform="translate(1143.32 803.6) scale(1.3571 1)" font-family="'DejaVu Sans','Liberation Sans',sans-serif" font-size="22.15" stroke="#000" stroke-width="0.35">0</text>
<text transform="translate(1282.44 803.6) scale(1.2699 1)" font-family="'DejaVu Sans','Liberation Sans',sans-serif" font-size="22.15" stroke="#000" stroke-width="0.35">20</text>
<text transform="translate(905.73 506.4) scale(1.3798 1)" font-family="'DejaVu Sans','Liberation Sans',sans-serif" font-size="28" stroke="#000" stroke-width="0.35">(d)</text>
<text transform="translate(1105.1 833.4) scale(1.3005 1)" font-family="'Liberation Serif','DejaVu Serif',serif" font-size="28" font-style="italic" stroke="#000" stroke-width="0.12">v</text>
<text transform="translate(1123.54 837.5) scale(1.4636 1)" font-family="'Liberation Serif','DejaVu Serif',serif" font-size="19.3" font-style="italic" stroke="#000" stroke-width="0.12">x</text>
<text transform="translate(1140.85 836.63) scale(1.5172 1)" font-family="'DejaVu Sans','Liberation Sans',sans-serif" font-weight="200" font-size="31.64">/</text>
<text transform="translate(1159.6 833.4) scale(1.3163 1)" font-family="'Liberation Serif','DejaVu Serif',serif" font-size="28" font-style="italic" stroke="#000" stroke-width="0.12">v</text>
<text transform="translate(1176.76 837.5) scale(1.7167 1)" font-family="'Liberation Serif','DejaVu Serif',serif" font-size="19.3" font-style="italic" stroke="#000" stroke-width="0.12">th</text>
<text transform="translate(767.5 654.3) rotate(-90) scale(1.1956 1.2500)" font-family="'Liberation Serif','DejaVu Serif',serif" font-size="28" font-style="italic" stroke="#000" stroke-width="0.12">f</text>
<text transform="translate(769.2 637.4) rotate(-90) scale(0.7494 1.2500)" font-family="'Liberation Serif','DejaVu Serif',serif" font-size="34.16" stroke="#000" stroke-width="0.12">(</text>
<text transform="translate(767.5 628) rotate(-90) scale(0.9931 1.2500)" font-family="'Liberation Serif','DejaVu Serif',serif" font-size="28" font-style="italic" stroke="#000" stroke-width="0.12">v</text>
<text transform="translate(774.3 614.86) rotate(-90) scale(1.1206 1.2500)" font-family="'Liberation Serif','DejaVu Serif',serif" font-size="19.3" font-style="italic" stroke="#000" stroke-width="0.12">x</text>
<text transform="translate(769.2 603.34) rotate(-90) scale(0.7825 1.2500)" font-family="'Liberation Serif','DejaVu Serif',serif" font-size="34.16" stroke="#000" stroke-width="0.12">)</text>
<path d="M1115.43 775.9L1116.87 775.9L1118.31 775.8L1119.75 775.6L1121.19 775.4L1122.63 775.1L1124.07 774.6L1125.51 773.59L1126.94 772.49L1128.38 770.78L1129.82 766.27L1131.26 765.07L1132.7 764.57L1134.14 750.32L1135.58 743.6L1137.02 729.96L1138.46 725.95L1139.9 708.1L1141.34 687.04L1142.78 656.14L1144.22 650.43L1145.66 612.52L1147.1 599.98L1148.54 584.83L1149.98 560.06L1151.42 542.51L1152.86 548.73L1154.3 545.92L1155.74 534.99L1157.18 538.8L1158.62 581.12L1160.06 589.55L1161.5 604.89L1162.94 624.05L1164.38 645.91L1165.82 666.88L1167.26 678.21L1168.7 709.2L1170.14 730.87L1171.58 731.87L1173.02 749.32L1174.46 755.74L1175.9 765.47L1177.34 766.57L1178.78 771.09L1180.22 773.09L1181.66 774.09L1183.1 774.4L1184.54 775.1L1185.98 775.4" stroke="#0000ff" stroke-width="2.1" stroke-dasharray="6.4 4.4" fill="none" stroke-linejoin="round"/>
<path d="M1106.93 772.13L1123.93 772.13L1115.43 783.43ZM1108.37 772.13L1125.37 772.13L1116.87 783.43ZM1109.81 772.03L1126.81 772.03L1118.31 783.33ZM1111.25 771.83L1128.25 771.83L1119.75 783.13ZM1112.69 771.63L1129.69 771.63L1121.19 782.93ZM1114.13 771.33L1131.13 771.33L1122.63 782.63ZM1115.57 770.83L1132.57 770.83L1124.07 782.13ZM1117.01 769.83L1134.01 769.83L1125.51 781.13ZM1118.44 768.72L1135.44 768.72L1126.94 780.02ZM1119.88 767.02L1136.88 767.02L1128.38 778.32ZM1121.32 762.5L1138.32 762.5L1129.82 773.8ZM1122.76 761.3L1139.76 761.3L1131.26 772.6ZM1124.2 760.8L1141.2 760.8L1132.7 772.1ZM1125.64 746.56L1142.64 746.56L1134.14 757.86ZM1127.08 739.84L1144.08 739.84L1135.58 751.14ZM1128.52 726.2L1145.52 726.2L1137.02 737.5ZM1129.96 722.19L1146.96 722.19L1138.46 733.49ZM1131.4 704.33L1148.4 704.33L1139.9 715.63ZM1132.84 683.27L1149.84 683.27L1141.34 694.57ZM1134.28 652.38L1151.28 652.38L1142.78 663.68ZM1135.72 646.66L1152.72 646.66L1144.22 657.96ZM1137.16 608.75L1154.16 608.75L1145.66 620.05ZM1138.6 596.21L1155.6 596.21L1147.1 607.51ZM1140.04 581.07L1157.04 581.07L1148.54 592.37ZM1141.48 556.29L1158.48 556.29L1149.98 567.59ZM1142.92 538.74L1159.92 538.74L1151.42 550.04ZM1144.36 544.96L1161.36 544.96L1152.86 556.26ZM1145.8 542.15L1162.8 542.15L1154.3 553.45ZM1147.24 531.22L1164.24 531.22L1155.74 542.52ZM1148.68 535.03L1165.68 535.03L1157.18 546.33ZM1150.12 577.36L1167.12 577.36L1158.62 588.66ZM1151.56 585.78L1168.56 585.78L1160.06 597.08ZM1153 601.13L1170 601.13L1161.5 612.43ZM1154.44 620.28L1171.44 620.28L1162.94 631.58ZM1155.88 642.15L1172.88 642.15L1164.38 653.45ZM1157.32 663.11L1174.32 663.11L1165.82 674.41ZM1158.76 674.44L1175.76 674.44L1167.26 685.74ZM1160.2 705.44L1177.2 705.44L1168.7 716.74ZM1161.64 727.1L1178.64 727.1L1170.14 738.4ZM1163.08 728.1L1180.08 728.1L1171.58 739.4ZM1164.52 745.55L1181.52 745.55L1173.02 756.85ZM1165.96 751.97L1182.96 751.97L1174.46 763.27ZM1167.4 761.7L1184.4 761.7L1175.9 773ZM1168.84 762.81L1185.84 762.81L1177.34 774.11ZM1170.28 767.32L1187.28 767.32L1178.78 778.62ZM1171.72 769.33L1188.72 769.33L1180.22 780.63ZM1173.16 770.33L1190.16 770.33L1181.66 781.63ZM1174.6 770.63L1191.6 770.63L1183.1 781.93ZM1176.04 771.33L1193.04 771.33L1184.54 782.63ZM1177.48 771.63L1194.48 771.63L1185.98 782.93Z" fill="#0000ff"/>
<path d="M941.2 775.3L950.11 775.3L959.01 775.7L967.92 774.1L976.82 772.6L985.73 770.6L994.63 769.2L1003.54 769.2L1012.44 760.5L1021.35 759.5L1030.25 750.8L1039.15 740.9L1048.06 736.9L1056.97 721.7L1065.87 701.5L1074.78 687.7L1083.68 663.9L1092.59 633L1101.49 618L1110.39 586.1L1119.3 571.3L1128.2 580.4L1137.11 553.6L1146.02 554.9L1154.92 559.4L1163.83 551.3L1172.73 552.9L1181.63 563.3L1190.54 589.9L1199.45 614.3L1208.35 627.6L1217.26 654.2L1226.16 654.9L1235.07 686.5L1243.97 707.8L1252.88 720.4L1261.78 726.5L1270.68 745.7L1279.59 755.4L1288.49 756.5L1297.4 763.1L1306.31 767.8L1315.21 770.6L1324.12 771.2L1333.02 773.9L1341.92 775.1L1350.83 773.9L1359.74 775.7L1368.64 775.1L1377.55 774.6" stroke="#ff0000" stroke-width="2.1" stroke-dasharray="6.4 4.4" fill="none" stroke-linejoin="round"/>
<g fill="#ff0000"><ellipse cx="941.2" cy="775.3" rx="6.15" ry="5.3"/><ellipse cx="950.11" cy="775.3" rx="6.15" ry="5.3"/><ellipse cx="959.01" cy="775.7" rx="6.15" ry="5.3"/><ellipse cx="967.92" cy="774.1" rx="6.15" ry="5.3"/><ellipse cx="976.82" cy="772.6" rx="6.15" ry="5.3"/><ellipse cx="985.73" cy="770.6" rx="6.15" ry="5.3"/><ellipse cx="994.63" cy="769.2" rx="6.15" ry="5.3"/><ellipse cx="1003.54" cy="769.2" rx="6.15" ry="5.3"/><ellipse cx="1012.44" cy="760.5" rx="6.15" ry="5.3"/><ellipse cx="1021.35" cy="759.5" rx="6.15" ry="5.3"/><ellipse cx="1030.25" cy="750.8" rx="6.15" ry="5.3"/><ellipse cx="1039.15" cy="740.9" rx="6.15" ry="5.3"/><ellipse cx="1048.06" cy="736.9" rx="6.15" ry="5.3"/><ellipse cx="1056.97" cy="721.7" rx="6.15" ry="5.3"/><ellipse cx="1065.87" cy="701.5" rx="6.15" ry="5.3"/><ellipse cx="1074.78" cy="687.7" rx="6.15" ry="5.3"/><ellipse cx="1083.68" cy="663.9" rx="6.15" ry="5.3"/><ellipse cx="1092.59" cy="633" rx="6.15" ry="5.3"/><ellipse cx="1101.49" cy="618" rx="6.15" ry="5.3"/><ellipse cx="1110.39" cy="586.1" rx="6.15" ry="5.3"/><ellipse cx="1119.3" cy="571.3" rx="6.15" ry="5.3"/><ellipse cx="1128.2" cy="580.4" rx="6.15" ry="5.3"/><ellipse cx="1137.11" cy="553.6" rx="6.15" ry="5.3"/><ellipse cx="1146.02" cy="554.9" rx="6.15" ry="5.3"/><ellipse cx="1154.92" cy="559.4" rx="6.15" ry="5.3"/><ellipse cx="1163.83" cy="551.3" rx="6.15" ry="5.3"/><ellipse cx="1172.73" cy="552.9" rx="6.15" ry="5.3"/><ellipse cx="1181.63" cy="563.3" rx="6.15" ry="5.3"/><ellipse cx="1190.54" cy="589.9" rx="6.15" ry="5.3"/><ellipse cx="1199.45" cy="614.3" rx="6.15" ry="5.3"/><ellipse cx="1208.35" cy="627.6" rx="6.15" ry="5.3"/><ellipse cx="1217.26" cy="654.2" rx="6.15" ry="5.3"/><ellipse cx="1226.16" cy="654.9" rx="6.15" ry="5.3"/><ellipse cx="1235.07" cy="686.5" rx="6.15" ry="5.3"/><ellipse cx="1243.97" cy="707.8" rx="6.15" ry="5.3"/><ellipse cx="1252.88" cy="720.4" rx="6.15" ry="5.3"/><ellipse cx="1261.78" cy="726.5" rx="6.15" ry="5.3"/><ellipse cx="1270.68" cy="745.7" rx="6.15" ry="5.3"/><ellipse cx="1279.59" cy="755.4" rx="6.15" ry="5.3"/><ellipse cx="1288.49" cy="756.5" rx="6.15" ry="5.3"/><ellipse cx="1297.4" cy="763.1" rx="6.15" ry="5.3"/><ellipse cx="1306.31" cy="767.8" rx="6.15" ry="5.3"/><ellipse cx="1315.21" cy="770.6" rx="6.15" ry="5.3"/><ellipse cx="1324.12" cy="771.2" rx="6.15" ry="5.3"/><ellipse cx="1333.02" cy="773.9" rx="6.15" ry="5.3"/><ellipse cx="1341.92" cy="775.1" rx="6.15" ry="5.3"/><ellipse cx="1350.83" cy="773.9" rx="6.15" ry="5.3"/><ellipse cx="1359.74" cy="775.7" rx="6.15" ry="5.3"/><ellipse cx="1368.64" cy="775.1" rx="6.15" ry="5.3"/><ellipse cx="1377.55" cy="774.6" rx="6.15" ry="5.3"/></g>
<rect x="1212.2" y="478.9" width="195.3" height="56.6" fill="#fff" stroke="#262626" stroke-width="2.4"/>
<path d="M1215.3 493.6H1242.4" stroke="#0000ff" stroke-width="2.1" stroke-dasharray="5.6 6 30 0" fill="none"/>
<path d="M1223.05 490.13L1240.05 490.13L1231.55 501.43Z" fill="#0000ff"/>
<path d="M1215.3 521.2H1242.4" stroke="#ff0000" stroke-width="2.1" stroke-dasharray="5.6 6 30 0" fill="none"/>
<ellipse cx="1231.55" cy="521.2" rx="6.15" ry="5.3" fill="#ff0000"/>
<text transform="translate(1248.88 499.5) scale(1.3497 1)" font-family="'Liberation Serif','DejaVu Serif',serif" font-size="21.8" font-style="italic" stroke="#000" stroke-width="0.12">&#969;</text>
<text transform="translate(1271.17 503.4) scale(1.3672 1)" font-family="'Liberation Serif','DejaVu Serif',serif" font-size="15.4" font-style="italic" stroke="#000" stroke-width="0.12">pd</text>
<text transform="translate(1293.73 499.5) scale(1.5657 1)" font-family="'Liberation Serif','DejaVu Serif',serif" font-size="21.8" font-style="italic">t</text>
<text transform="translate(1314.01 501.3) scale(2.1920 1)" font-family="'Liberation Serif','DejaVu Serif',serif" font-size="21.8" stroke="#000" stroke-width="0.12">=</text>
<text transform="translate(1340.34 499.5) scale(1.4784 1)" font-family="'Liberation Serif','DejaVu Serif',serif" font-size="21.8" stroke="#000" stroke-width="0.3">0</text>
<text transform="translate(1248.88 527) scale(1.3497 1)" font-family="'Liberation Serif','DejaVu Serif',serif" font-size="21.8" font-style="italic" stroke="#000" stroke-width="0.12">&#969;</text>
<text transform="translate(1271.17 530.9) scale(1.3672 1)" font-family="'Liberation Serif','DejaVu Serif',serif" font-size="15.4" font-style="italic" stroke="#000" stroke-width="0.12">pd</text>
<text transform="translate(1293.73 527) scale(1.5657 1)" font-family="'Liberation Serif','DejaVu Serif',serif" font-size="21.8" font-style="italic">t</text>
<text transform="translate(1314.01 528.8) scale(2.1920 1)" font-family="'Liberation Serif','DejaVu Serif',serif" font-size="21.8" stroke="#000" stroke-width="0.12">=</text>
<text transform="translate(1339.84 527) scale(1.4798 1)" font-family="'Liberation Serif','DejaVu Serif',serif" font-size="21.8" stroke="#000" stroke-width="0.3">3000</text>
</g>
</svg>
</body></html>
